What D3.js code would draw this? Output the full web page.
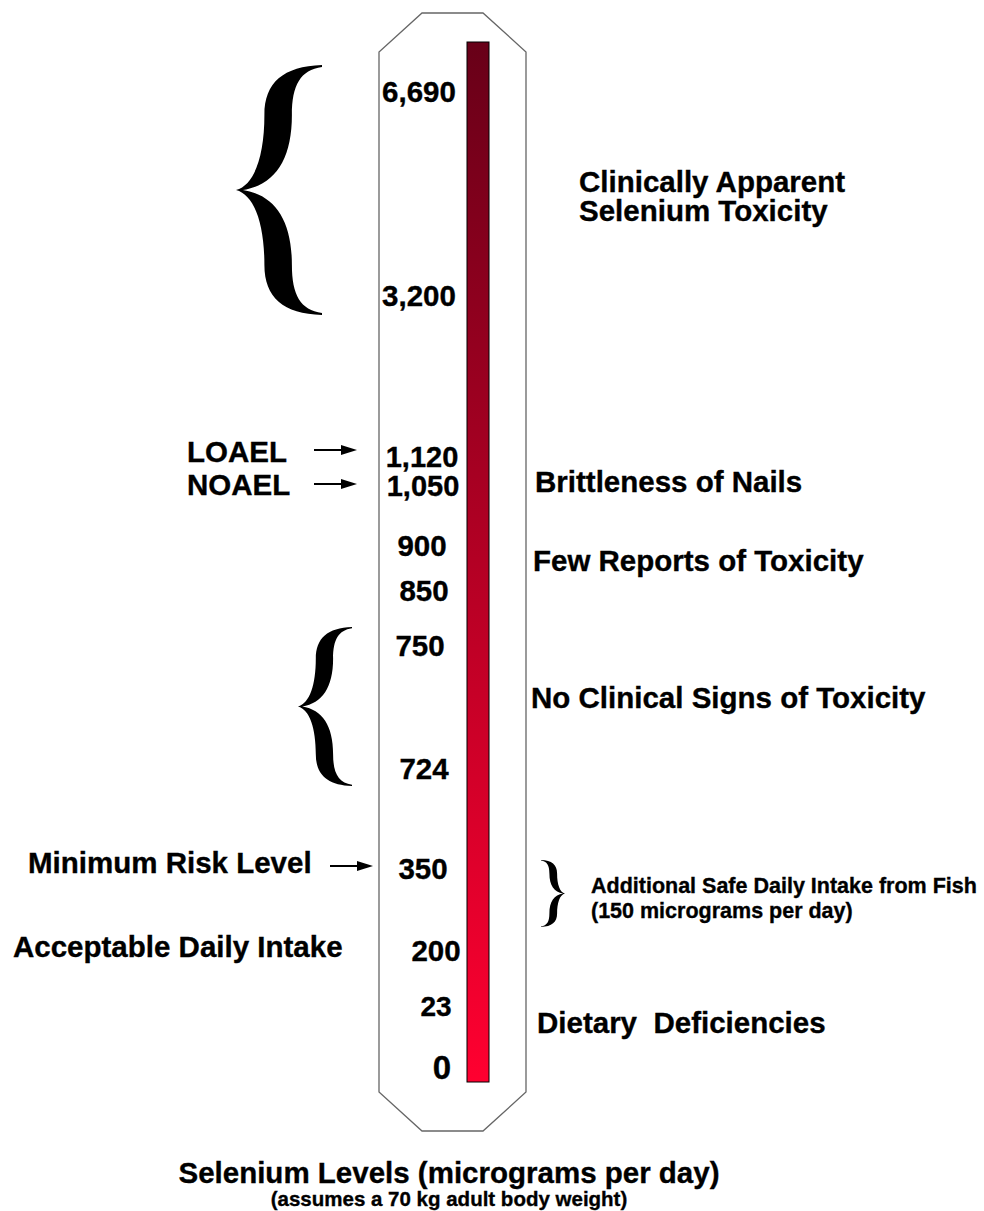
<!DOCTYPE html>
<html>
<head>
<meta charset="utf-8">
<script src="https://cdn.jsdelivr.net/npm/d3@7"></script>
<style>
  html, body { margin: 0; padding: 0; background: #fff; }
  svg { display: block; }
  text { font-family: "Liberation Sans", Arial, sans-serif; font-weight: bold; fill: #000; stroke: #000; stroke-width: 0.35px; }
</style>
</head>
<body>
<script>
// ---------- data ----------
const levels      = [6690, 3200, 1120, 1050, 900, 850, 750, 724, 350, 200, 23, 0];
const levelLabels = ["6,690", "3,200", "1,120", "1,050", "900", "850", "750", "724", "350", "200", "23", "0"];

const rightNotes = [
  { lines: ["Clinically Apparent", "Selenium Toxicity"], level: 6690 },
  { lines: ["Brittleness of Nails"], level: 1050 },
  { lines: ["Few Reports of Toxicity"], level: 900 },
  { lines: ["No Clinical Signs of Toxicity"], level: 750 },
  { lines: ["Additional Safe Daily Intake from Fish", "(150 micrograms per day)"], level: 350 },
  { lines: ["Dietary  Deficiencies"], level: 23 }
];
const leftNotes = [
  { text: "LOAEL", level: 1120, arrow: true },
  { text: "NOAEL", level: 1050, arrow: true },
  { text: "Minimum Risk Level", level: 350, arrow: true },
  { text: "Acceptable Daily Intake", level: 200, arrow: false }
];
const braces = [
  { from: 6690, to: 3200, side: "left" },
  { from: 750, to: 724, side: "left" },
  { from: 350, to: 200, side: "right" }
];
const titleText = "Selenium Levels (micrograms per day)";
const subtitleText = "(assumes a 70 kg adult body weight)";

// ---------- layout (pixel positions, separate from data) ----------
const W = 984, H = 1211;
const levelY = [91, 295, 457, 486, 545, 590, 645, 768, 868, 950, 1006, 1067]; // label centres
const labelX = [419, 419, 422, 423, 422, 424, 420, 424, 423, 436, 436, 442];
const labelSize = [29.5, 29.5, 29, 29, 29.5, 29.5, 29.5, 29.5, 29.5, 29.5, 28, 33];

const y = d3.scaleLinear().domain(levels).range(levelY);

const svg = d3.select("body").append("svg").attr("width", W).attr("height", H);
svg.append("rect").attr("width", W).attr("height", H).attr("fill", "#fff");

const defs = svg.append("defs");
const grad = defs.append("linearGradient").attr("id", "g").attr("x1", 0).attr("y1", 0).attr("x2", 0).attr("y2", 1);
grad.append("stop").attr("offset", 0).attr("stop-color", "#680018");
grad.append("stop").attr("offset", 1).attr("stop-color", "#ff0030");
defs.append("marker").attr("id", "ah").attr("viewBox", "0 0 16 10").attr("refX", 16).attr("refY", 5)
  .attr("markerWidth", 16).attr("markerHeight", 10).attr("markerUnits", "userSpaceOnUse").attr("orient", "auto")
  .append("path").attr("d", "M0,0 L16,5 L0,10 Z").attr("fill", "#000");

// octagonal outline
const oct = [[422,13],[483,13],[526,52],[526,1092],[483,1131],[422,1131],[379,1092],[379,52]];
svg.append("path").attr("d", d3.line()(oct) + "Z").attr("fill", "#fff").attr("stroke", "#666").attr("stroke-width", 1.3);

// gradient bar spanning the full range of levels
const barTop = 42, barBottom = 1082;
svg.append("rect").attr("x", 467).attr("y", barTop).attr("width", 22).attr("height", barBottom - barTop)
  .attr("fill", "url(#g)").attr("stroke", "#000").attr("stroke-width", 1);

// level labels
svg.selectAll("text.lvl").data(levels).join("text").attr("class", "lvl")
  .attr("x", (d, i) => labelX[i]).attr("y", d => y(d))
  .attr("text-anchor", "middle").attr("dominant-baseline", "central")
  .style("font-size", (d, i) => labelSize[i] + "px")
  .text((d, i) => levelLabels[i]);

// right notes
const rightX = [579, 535, 533, 531, 591, 537];
const rightDy = [90, -5, 15, 52, 18, 16];
const rightSize = [29.5, 29.5, 29.5, 29.5, 21.5, 29.5];
const rightLead = [29, 0, 0, 0, 25, 0];
rightNotes.forEach((n, i) => {
  const t = svg.append("text").attr("x", rightX[i]).attr("y", y(n.level) + rightDy[i])
    .attr("dominant-baseline", "central").style("font-size", rightSize[i] + "px")
    .attr("xml:space", "preserve").style("white-space", "pre");
  n.lines.forEach((l, j) => t.append("tspan").attr("x", rightX[i]).attr("dy", j === 0 ? 0 : rightLead[i]).text(l));
});

// left notes + arrows
const leftX = [187, 187, 28, 13];
const leftDy = [-6, -2, -6, -4];
const arrowX = [[314, 357], [314, 357], [330, 373]];
const arrowDy = [-7, -2, -2];
leftNotes.forEach((n, i) => {
  svg.append("text").attr("x", leftX[i]).attr("y", y(n.level) + leftDy[i])
    .attr("dominant-baseline", "central").style("font-size", "29.5px").text(n.text);
  if (n.arrow) {
    svg.append("line").attr("x1", arrowX[i][0]).attr("x2", arrowX[i][1] - 6)
      .attr("y1", y(n.level) + arrowDy[i]).attr("y2", y(n.level) + arrowDy[i])
      .attr("stroke", "#000").attr("stroke-width", 2);
    svg.append("line").attr("x1", arrowX[i][1] - 8).attr("x2", arrowX[i][1])
      .attr("y1", y(n.level) + arrowDy[i]).attr("y2", y(n.level) + arrowDy[i])
      .attr("stroke", "none").attr("marker-end", "url(#ah)");
  }
});

// braces
function bracePath(x0, y0, w, h, pointRight) {
  const P = [
    ["M", 1, 0],
    ["C", 0.55, 0.005, 0.33, 0.07, 0.33, 0.2],
    ["C", 0.33, 0.36, 0.22, 0.48, 0, 0.5],
    ["C", 0.22, 0.52, 0.33, 0.64, 0.33, 0.8],
    ["C", 0.33, 0.93, 0.55, 0.995, 1, 1],
    ["L", 1, 0.992],
    ["C", 0.75, 0.98, 0.65, 0.92, 0.65, 0.8],
    ["C", 0.65, 0.62, 0.45, 0.52, 0.08, 0.5],
    ["C", 0.45, 0.48, 0.65, 0.38, 0.65, 0.2],
    ["C", 0.65, 0.08, 0.75, 0.02, 1, 0.008]
  ];
  const fx = u => pointRight ? x0 + w - u * w : x0 + u * w;
  const fy = v => y0 + v * h;
  let s = "";
  P.forEach(seg => {
    s += seg[0];
    const c = [];
    for (let k = 1; k < seg.length; k += 2) c.push(fx(seg[k]).toFixed(1) + "," + fy(seg[k + 1]).toFixed(1));
    s += c.join(" ");
  });
  return s + "Z";
}
const braceBox = [
  { x: 236, w: 86, top: 65, bottom: 315 },
  { x: 298, w: 54, top: 627, bottom: 786 },
  { x: 541, w: 24, top: 860, bottom: 927 }
];
braces.forEach((b, i) => {
  const bb = braceBox[i];
  svg.append("path").attr("d", bracePath(bb.x, bb.top, bb.w, bb.bottom - bb.top, b.side === "right"))
    .attr("fill", "#000");
});

// titles
svg.append("text").attr("x", 449).attr("y", 1172).attr("text-anchor", "middle")
  .attr("dominant-baseline", "central").style("font-size", "29.5px").text(titleText);
svg.append("text").attr("x", 449).attr("y", 1198).attr("text-anchor", "middle")
  .attr("dominant-baseline", "central").style("font-size", "20.5px").text(subtitleText);
</script>
</body>
</html>
